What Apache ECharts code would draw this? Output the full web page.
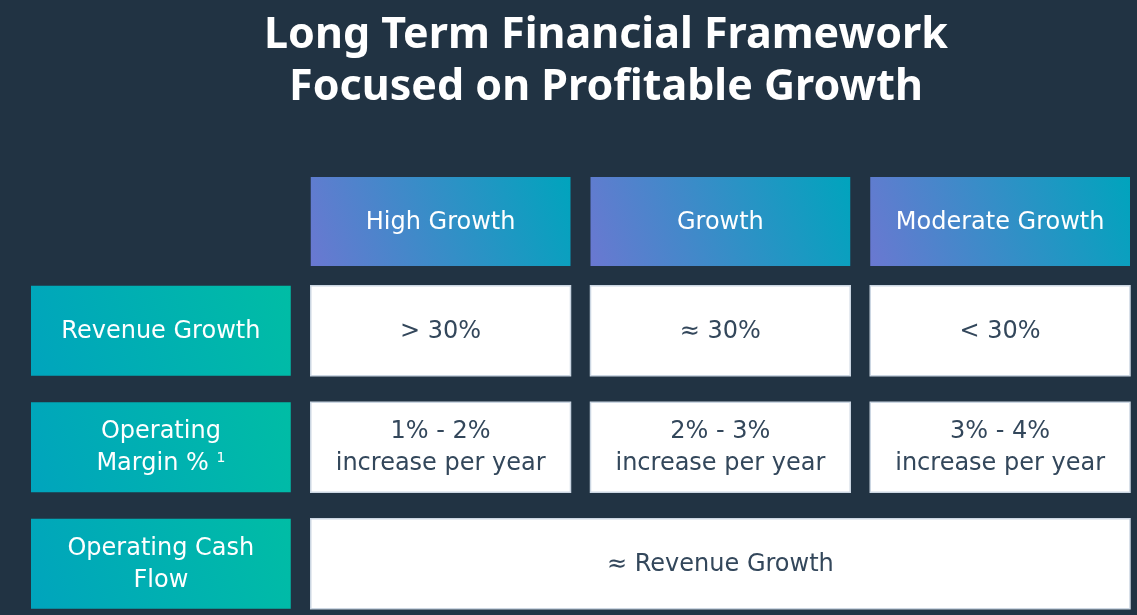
<!DOCTYPE html>
<html>
<head>
<meta charset="utf-8">
<script src="https://cdn.jsdelivr.net/npm/echarts@6/dist/echarts.min.js"></script>
<style>
  html, body { margin: 0; padding: 0; background: #213343; }
  #chart { width: 1137px; height: 615px; }
</style>
</head>
<body>
<div id="chart"></div>
<script>
var titleLines = ['Long Term Financial Framework', 'Focused on Profitable Growth'];
var columns = ['', 'High Growth', 'Growth', 'Moderate Growth'];
var metrics = ['Revenue Growth', 'Operating\nMargin % {sup|1}', 'Operating Cash\nFlow'];
var revenueGrowth = ['> 30%', '≈ 30%', '< 30%'];
var operatingMargin = ['1% - 2%\nincrease per year', '2% - 3%\nincrease per year', '3% - 4%\nincrease per year'];
var operatingCashFlow = '≈ Revenue Growth';

var TITLE_FONT = '"Noto Sans", sans-serif';
var FONT = '"DejaVu Sans", sans-serif';
var headGrad = new echarts.graphic.LinearGradient(0, 1, 1, 0, [
  { offset: 0, color: '#6a78d1' },
  { offset: 1, color: '#00a4bd' }
]);
var labelGrad = new echarts.graphic.LinearGradient(0, 1, 1, 0, [
  { offset: 0, color: '#00a4bd' },
  { offset: 1, color: '#00bda5' }
]);

// header row cells: [col, row, text]
var headData = columns.slice(1).map(function (c, i) { return [i + 1, 0, c]; });
// body cells: [col, row, text, kind, spanTo]
var bodyData = [];
metrics.forEach(function (m, r) { bodyData.push([0, r, m, 'label', 0]); });
revenueGrowth.forEach(function (v, i) { bodyData.push([i + 1, 0, v, 'cell', i + 1]); });
operatingMargin.forEach(function (v, i) { bodyData.push([i + 1, 1, v, 'cell', i + 1]); });
bodyData.push([1, 2, operatingCashFlow, 'cell', 3]);

function cellRender(boxH) {
  return function (params, api) {
    var col = api.value(0), row = api.value(1);
    var item = params.dataIndex;
    var d = params.seriesIndex === 0 ? headData[item] : bodyData[item];
    var kind = params.seriesIndex === 0 ? 'head' : d[3];
    var spanTo = kind === 'cell' ? d[4] : col;
    var bandW = api.size([1, 0])[0];
    var w = bandW - 20;
    var p0 = api.coord([col, row]);
    var p1 = api.coord([spanTo, row]);
    var x = p0[0] - w / 2, y = p0[1] - boxH / 2;
    var width = p1[0] - p0[0] + w;
    var fill = kind === 'head' ? headGrad : kind === 'label' ? labelGrad : '#ffffff';
    var textColor = kind === 'cell' ? '#33475b' : '#ffffff';
    return {
      type: 'group',
      children: [{
        type: 'rect',
        shape: { x: x, y: y, width: width, height: boxH },
        style: { fill: fill, stroke: kind === 'cell' ? '#cbd6e2' : null, lineWidth: 1.5 }
      }, {
        type: 'text',
        style: {
          text: d[2],
          x: x + width / 2,
          y: y + boxH / 2 + 1,
          align: 'center',
          verticalAlign: 'middle',
          fill: textColor,
          fontFamily: FONT,
          fontSize: 24,
          lineHeight: 32,
          rich: {
            sup: { fontSize: 14, fill: textColor, padding: [0, 0, 12, 0], fontFamily: FONT }
          }
        }
      }]
    };
  };
}

var chart = echarts.init(document.getElementById('chart'));
chart.setOption({
  backgroundColor: '#213343',
  animation: false,
  title: {
    text: titleLines.join('\n'),
    left: 601,
    top: 5,
    textAlign: 'center',
    textStyle: { color: '#ffffff', fontFamily: TITLE_FONT, fontWeight: 'bold', fontSize: 43, lineHeight: 52 }
  },
  grid: [
    { left: 21, right: -3, top: 177, height: 89, outerBoundsMode: 'none' },
    { left: 21, right: -3, top: 272.5, height: 349.5, outerBoundsMode: 'none' }
  ],
  xAxis: [
    { type: 'category', gridIndex: 0, data: columns, show: false },
    { type: 'category', gridIndex: 1, data: columns, show: false }
  ],
  yAxis: [
    { type: 'category', gridIndex: 0, data: ['head'], show: false, inverse: true },
    { type: 'category', gridIndex: 1, data: metrics, show: false, inverse: true }
  ],
  series: [
    { type: 'custom', xAxisIndex: 0, yAxisIndex: 0, data: headData, renderItem: cellRender(89) },
    { type: 'custom', xAxisIndex: 1, yAxisIndex: 1, data: bodyData.map(function (d) { return [d[0], d[1]]; }), renderItem: cellRender(90) }
  ]
});
</script>
</body>
</html>
